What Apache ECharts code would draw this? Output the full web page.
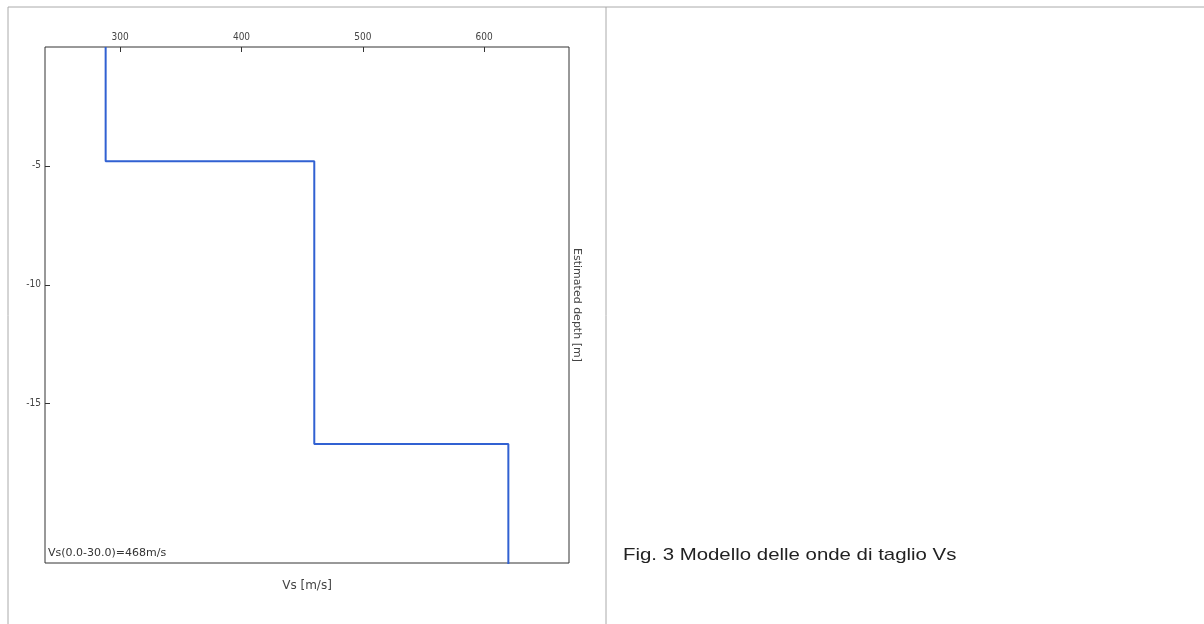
<!DOCTYPE html>
<html>
<head>
<meta charset="utf-8">
<script src="https://cdn.jsdelivr.net/npm/echarts@6/dist/echarts.min.js"></script>
<style>
  html, body { margin: 0; padding: 0; background: #fff; }
  #chart { width: 1204px; height: 624px; }
</style>
</head>
<body>
<div id="chart"></div>
<script>
// layers of the Vs model (m/s, depth in m)
const vsValues = [288, 460, 620];
const layerTop = [0, -4.8, -16.7];
const layerBottom = [-4.8, -16.7, -30];
const xTicks = [300, 400, 500, 600];
const yTicks = [-5, -10, -15];

// step line: down each layer, then across to the next one
const profile = [];
vsValues.forEach((v, i) => {
  profile.push([v, layerTop[i]]);
  profile.push([v, layerBottom[i]]);
});

const chart = echarts.init(document.getElementById('chart'));
const txt = '#444';

const option = {
  animation: false,
  grid: {
    left: 45, top: 47, width: 524, height: 516,
    show: true, borderColor: '#333', borderWidth: 1, backgroundColor: '#fff'
  },
  xAxis: [
    {
      type: 'value', position: 'top', min: 238, max: 670,
      axisLine: { show: false },
      splitLine: { show: false },
      axisTick: { show: true, inside: true, length: 5, customValues: xTicks, lineStyle: { color: '#333' } },
      axisLabel: { customValues: xTicks, color: txt, fontSize: 10, margin: 5, fontFamily: 'DejaVu Sans Condensed' }
    },
    {
      type: 'value', position: 'bottom', min: 238, max: 670,
      axisLine: { show: false }, axisTick: { show: false }, axisLabel: { show: false },
      splitLine: { show: false },
      name: 'Vs [m/s]', nameLocation: 'middle', nameGap: 17,
      nameTextStyle: { color: txt, fontSize: 12, fontFamily: 'DejaVu Sans' }
    }
  ],
  yAxis: [
    {
      type: 'value', position: 'left', min: -21.7, max: 0,
      axisLine: { show: false },
      splitLine: { show: false },
      axisTick: { show: true, inside: true, length: 5, customValues: yTicks, lineStyle: { color: '#333' } },
      axisLabel: { customValues: yTicks, color: txt, fontSize: 10, margin: 4, fontFamily: 'DejaVu Sans Condensed' }
    },
    {
      type: 'value', position: 'right', min: -21.7, max: 0,
      axisLine: { show: false }, axisTick: { show: false }, axisLabel: { show: false },
      splitLine: { show: false },
      name: 'Estimated depth [m]', nameLocation: 'middle', nameGap: 2, nameRotate: -90,
      nameTextStyle: { color: txt, fontSize: 11, fontFamily: 'DejaVu Sans' }
    }
  ],
  series: [
    {
      type: 'line',
      data: profile,
      xAxisIndex: 0, yAxisIndex: 0,
      showSymbol: false,
      clip: true,
      lineStyle: { color: '#3161d2', width: 2 }
    }
  ],
  graphic: [
    // page table lines
    { type: 'line', shape: { x1: 8, y1: 7, x2: 1204, y2: 7 }, style: { stroke: '#aaa', lineWidth: 1 } },
    { type: 'line', shape: { x1: 8, y1: 7, x2: 8, y2: 624 }, style: { stroke: '#aaa', lineWidth: 1 } },
    { type: 'line', shape: { x1: 606, y1: 7, x2: 606, y2: 624 }, style: { stroke: '#aaa', lineWidth: 1 } },
    {
      type: 'text', left: 48, top: 548,
      style: { text: 'Vs(0.0-30.0)=468m/s', fill: '#333', fontSize: 11, fontFamily: 'DejaVu Sans' }
    },
    {
      type: 'text', x: 623, y: 547, scaleX: 1.2,
      style: { text: 'Fig. 3 Modello delle onde di taglio Vs', fill: '#222', fontSize: 17, fontFamily: 'Liberation Sans' }
    }
  ]
};

chart.setOption(option);
window.addEventListener('resize', () => chart.resize());
</script>
</body>
</html>
